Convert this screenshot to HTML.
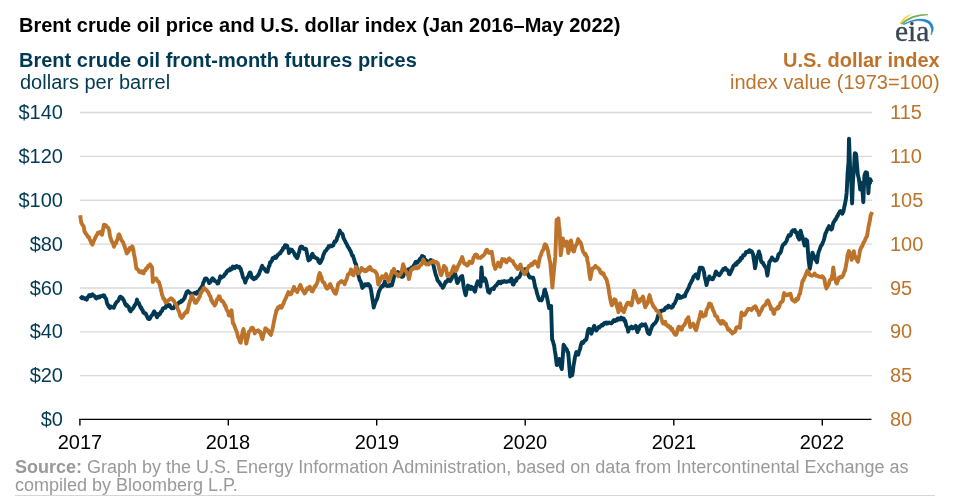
<!DOCTYPE html>
<html><head><meta charset="utf-8">
<style>
html,body{margin:0;padding:0;background:#fff;}
.t,.yl,.yr,.xl{will-change:transform;}
body{width:956px;height:498px;position:relative;overflow:hidden;font-family:"Liberation Sans",sans-serif;}
.t{position:absolute;white-space:nowrap;line-height:1;}
.b{font-weight:bold;}
.teal{color:#003953;}
.org{color:#bd732a;}
.yl{position:absolute;font-size:20px;line-height:1;color:#003953;text-align:right;width:60px;left:3.2px;}
.yr{position:absolute;font-size:20px;line-height:1;color:#bd732a;left:889.5px;}
.xl{position:absolute;font-size:20px;line-height:1;color:#000;width:60px;text-align:center;}
</style></head><body>
<div class="t b" style="left:19px;top:15px;font-size:20px;color:#000;">Brent crude oil price and U.S. dollar index (Jan 2016–May 2022)</div>
<div class="t b teal" style="left:19px;top:49.5px;font-size:20px;">Brent crude oil front-month futures prices</div>
<div class="t teal" style="left:19.5px;top:72.3px;font-size:20px;">dollars per barrel</div>
<div class="t b org" style="right:16.5px;top:49.5px;font-size:20px;">U.S. dollar index</div>
<div class="t org" style="right:16px;top:72.3px;font-size:20px;">index value (1973=100)</div>

<svg width="50" height="40" viewBox="890 6 50 40" style="position:absolute;left:890px;top:6px">
 <path d="M899.4,23.6 Q903.5,15.8 912,13.4 Q905.5,18.2 901,23.8Z" fill="#f3d250"/>
 <path d="M901.2,23.8 Q911,14 928,14.6 Q912,15.6 902.4,24Z" fill="#6aa84f" stroke="#6aa84f" stroke-width="0.8"/>
 <path d="M903.2,24.2 Q920,15.5 930,21.5 Q936,27 931,35 Q933,27 928,23 Q918,17.5 904.2,24.4Z" fill="#1f86c6" stroke="#1f86c6" stroke-width="0.6"/>
</svg>
<div class="t" style="left:894.5px;top:16.5px;font-family:'Liberation Serif',serif;font-size:29.5px;color:#3a4550;-webkit-text-stroke:0.35px #3a4550;">eia</div>
<svg width="956" height="498" style="position:absolute;left:0;top:0">
 <g stroke="#d9d9d9" stroke-width="1.3">
  <line x1="80" x2="872" y1="112.50" y2="112.50"/>
  <line x1="80" x2="872" y1="156.37" y2="156.37"/>
  <line x1="80" x2="872" y1="200.24" y2="200.24"/>
  <line x1="80" x2="872" y1="244.11" y2="244.11"/>
  <line x1="80" x2="872" y1="287.98" y2="287.98"/>
  <line x1="80" x2="872" y1="331.85" y2="331.85"/>
  <line x1="80" x2="872" y1="375.72" y2="375.72"/>
 </g>
 <g stroke="#000" stroke-width="1.4">
  <line x1="79.3" x2="871.5" y1="419.4" y2="419.4"/>
  <line x1="79.9" x2="79.9" y1="419" y2="425.5"/>
  <line x1="228.3" x2="228.3" y1="419" y2="425.5"/>
  <line x1="376.7" x2="376.7" y1="419" y2="425.5"/>
  <line x1="525.2" x2="525.2" y1="419" y2="425.5"/>
  <line x1="673.8" x2="673.8" y1="419" y2="425.5"/>
  <line x1="822.3" x2="822.3" y1="419" y2="425.5"/>
 </g>
 <line x1="15" x2="935" y1="495.5" y2="495.5" stroke="#d6d6d6" stroke-width="1"/>
 <g id="data" fill="none" stroke-width="3.9" stroke-linejoin="round" stroke-linecap="butt">
  <path stroke="#003953" d="M80.2,296.2L80.9,296.9L81.6,298.0L82.3,298.3L83.0,297.3L83.6,298.2L84.2,298.0L84.9,298.9L85.5,298.4L86.1,298.5L86.8,299.6L87.4,297.8L88.0,296.8L88.6,296.2L89.2,295.2L89.9,295.0L90.5,296.3L91.2,295.9L91.8,294.8L92.4,294.4L93.1,295.5L93.7,295.4L94.3,295.8L95.0,296.6L95.6,297.8L96.2,298.4L96.8,297.9L97.5,297.1L98.1,296.7L98.7,297.5L99.3,297.5L100.0,296.2L100.6,296.2L101.2,296.2L101.8,296.2L102.5,295.9L103.1,295.3L103.7,295.9L104.3,295.6L105.0,297.6L105.6,298.1L106.2,299.0L106.8,302.3L107.5,304.5L108.1,304.8L108.7,306.8L109.4,307.0L110.0,308.1L110.6,306.4L111.3,307.1L111.9,307.4L112.5,307.3L113.2,307.2L113.8,307.8L114.4,306.3L115.0,304.8L115.7,303.4L116.3,302.8L116.9,301.8L117.5,301.5L118.2,300.7L118.8,299.5L119.4,298.0L120.1,296.9L120.7,296.7L121.3,297.6L122.0,297.9L122.6,298.1L123.2,299.8L123.8,300.2L124.5,302.1L125.1,304.0L125.7,304.7L126.3,305.6L126.9,304.9L127.6,306.3L128.2,306.6L128.8,307.1L129.5,309.8L130.1,310.8L130.7,311.4L131.3,309.9L132.0,309.3L132.6,309.0L133.2,308.0L133.8,307.2L134.5,305.6L135.1,305.1L135.7,303.7L136.4,302.6L137.0,299.6L137.6,302.3L138.2,303.2L138.8,303.0L139.5,304.7L140.1,306.2L140.7,307.8L141.3,307.5L142.0,309.7L142.6,310.0L143.2,312.4L143.9,312.2L144.5,313.3L145.1,313.4L145.7,313.4L146.4,315.3L147.0,316.4L147.6,317.7L148.2,318.8L148.9,319.0L149.5,319.1L150.0,318.2L150.7,317.0L151.4,315.6L152.1,315.2L152.8,314.1L153.5,312.5L154.2,311.4L154.9,312.5L155.6,313.9L156.3,315.6L157.0,317.2L157.6,315.6L158.2,314.0L158.8,315.0L159.5,314.1L160.1,314.1L160.7,311.9L161.3,311.5L162.0,310.8L162.7,308.9L163.4,308.1L164.1,308.0L164.8,307.9L165.5,307.8L166.2,305.7L166.9,304.1L167.6,305.1L168.3,306.0L169.0,305.9L169.7,305.0L170.4,306.6L171.1,307.7L171.8,308.4L172.5,308.4L173.1,308.1L173.7,308.0L174.4,306.7L175.0,305.1L175.6,305.5L176.2,305.4L176.9,304.8L177.5,304.8L178.1,303.5L178.7,302.9L179.4,302.1L180.0,302.0L180.6,302.3L181.3,300.8L181.9,301.3L182.5,300.8L183.2,299.8L183.8,298.9L184.5,298.2L185.2,295.9L185.9,294.2L186.6,292.1L187.3,291.6L188.0,291.1L188.7,291.8L189.4,292.5L190.1,292.9L190.8,293.8L191.5,293.6L192.2,294.7L192.9,294.1L193.6,293.3L194.3,293.1L195.0,292.9L195.7,293.6L196.4,293.7L197.1,291.9L197.8,292.4L198.5,292.3L199.2,290.8L199.9,289.2L200.6,288.6L201.3,287.3L202.0,286.6L202.7,285.0L203.4,282.1L204.1,281.4L204.9,278.9L205.6,278.4L206.3,278.4L207.0,279.2L207.7,280.0L208.4,281.0L209.1,283.1L209.8,282.6L210.5,281.8L211.2,280.9L211.9,278.9L212.6,278.3L213.2,279.0L213.8,279.3L214.4,280.8L215.1,281.0L215.7,281.4L216.3,281.7L216.9,281.5L217.5,283.6L218.2,283.3L218.9,281.5L219.6,279.2L220.3,276.3L220.9,277.0L221.5,277.6L222.2,276.8L222.8,276.6L223.4,276.5L224.0,275.8L224.7,274.2L225.3,274.1L225.9,273.5L226.6,271.5L227.3,271.2L227.9,270.1L228.6,270.2L229.3,270.5L230.0,269.2L230.2,268.6L230.9,269.6L231.5,269.0L232.2,269.0L232.8,266.6L233.5,266.8L234.2,267.8L234.8,268.1L235.4,266.6L236.1,266.3L236.8,265.9L237.4,266.4L238.1,267.3L238.7,267.4L239.4,266.9L240.0,268.5L240.7,268.7L241.3,271.2L242.0,273.2L242.7,276.0L243.3,278.0L244.0,278.5L244.6,280.1L245.3,282.6L246.0,280.0L246.6,278.8L247.2,277.9L247.9,276.7L248.6,275.7L249.2,273.7L249.8,272.5L250.5,272.6L251.1,274.6L251.8,277.6L252.4,277.5L253.1,278.7L253.8,279.2L254.4,278.1L255.1,278.6L255.8,278.3L256.4,277.2L257.1,276.5L257.7,276.1L258.4,274.6L259.0,274.3L259.6,272.1L260.3,270.3L260.9,269.3L261.6,267.1L262.2,265.8L262.9,267.7L263.5,268.0L264.2,268.5L264.8,269.8L265.5,270.2L266.2,271.4L266.8,270.6L267.5,271.8L268.1,269.0L268.8,266.4L269.5,265.6L270.1,262.2L270.7,262.4L271.4,261.2L272.0,260.6L272.7,258.1L273.3,257.9L273.9,258.2L274.6,257.2L275.2,256.6L275.9,258.0L276.6,256.9L277.2,255.9L277.9,254.7L278.5,254.5L279.2,253.8L279.8,253.0L280.5,253.2L281.2,251.3L281.8,250.5L282.5,250.3L283.1,248.0L283.8,247.9L284.4,247.8L285.1,245.1L285.8,245.2L286.4,245.7L287.1,245.8L287.7,247.7L288.4,249.3L289.0,253.1L290.0,250.6L290.6,249.5L291.3,250.2L291.9,249.7L292.6,251.5L293.2,251.6L293.9,252.8L294.5,254.1L295.2,255.7L295.9,256.3L296.5,257.5L297.2,258.2L297.9,256.4L298.5,253.5L299.2,251.9L299.9,248.6L300.5,247.0L301.2,246.6L301.9,247.1L302.5,247.0L303.2,248.5L303.8,248.9L304.5,249.1L305.3,248.7L306.1,249.0L306.9,253.2L307.7,257.0L308.5,260.4L309.2,259.1L309.8,259.6L310.5,258.5L311.2,256.7L311.8,254.7L312.5,253.8L313.2,256.9L313.8,256.0L314.5,256.8L315.2,257.6L315.8,258.0L316.5,258.4L317.2,258.4L317.8,259.1L318.5,261.7L319.2,261.6L319.8,263.1L320.5,262.5L321.2,261.0L321.8,259.6L322.5,258.4L323.2,255.4L323.8,254.2L324.5,252.4L325.2,251.1L325.9,250.9L326.6,249.6L327.2,248.7L327.9,248.5L328.6,246.2L329.3,246.9L329.9,246.3L330.6,245.5L331.3,245.7L331.9,246.3L332.6,245.5L333.3,245.4L333.9,243.1L334.6,241.4L335.3,242.0L335.9,240.9L336.6,240.1L337.2,237.3L337.9,236.2L338.5,234.3L339.2,232.7L339.8,230.6L340.6,232.7L341.4,233.1L342.2,233.8L342.8,234.9L343.4,238.0L344.0,238.9L344.6,240.1L345.2,241.2L345.9,242.8L346.5,243.6L347.2,245.4L347.8,246.6L348.4,247.6L349.1,248.3L349.7,249.8L350.4,250.7L351.0,252.0L351.6,253.9L352.2,255.6L352.9,255.6L353.5,257.7L354.3,259.9L355.1,263.0L355.9,264.0L356.5,266.7L357.2,269.6L357.8,272.2L358.5,275.7L359.1,277.7L359.7,280.3L360.4,281.0L361.0,282.1L361.7,285.8L362.3,287.9L362.9,287.3L363.6,286.5L364.2,286.0L364.9,284.3L365.5,284.7L366.1,284.3L366.8,285.3L367.4,285.3L368.1,284.0L368.7,284.1L369.4,285.9L370.0,285.9L371.1,290.3L371.8,294.9L372.4,298.8L373.1,302.9L373.7,307.5L374.4,305.0L375.0,303.4L375.7,301.1L376.3,300.3L377.0,299.0L377.6,296.9L378.3,294.3L378.9,291.4L379.6,290.2L380.2,289.0L380.9,287.6L381.5,287.0L382.2,285.9L382.8,286.4L383.5,285.3L384.1,283.8L384.8,281.6L385.4,283.7L386.1,285.0L386.7,285.9L387.4,286.0L388.1,285.5L388.7,285.9L389.4,285.1L390.0,285.8L390.7,284.8L391.3,284.4L392.0,285.2L392.6,282.5L393.3,280.1L393.9,277.5L394.6,275.4L395.2,274.9L395.9,273.4L396.5,273.7L397.2,272.4L397.8,272.0L398.5,272.3L399.1,274.2L399.8,274.0L400.5,275.8L401.1,276.5L401.8,276.9L402.5,275.6L403.1,276.4L403.8,274.5L404.4,273.2L405.1,271.7L405.7,272.1L406.4,272.5L407.0,270.9L407.6,269.8L408.3,269.4L408.9,271.1L409.6,270.8L410.2,269.5L410.9,268.1L411.5,267.5L412.2,268.0L412.9,268.1L413.5,266.3L414.1,264.8L414.8,263.8L415.5,262.0L416.1,262.6L416.8,261.7L417.4,262.7L418.1,261.2L418.7,260.8L419.4,260.4L420.0,258.8L420.7,258.4L421.3,257.5L422.0,256.0L422.6,256.2L423.3,257.6L423.9,256.8L424.6,259.5L425.0,260.2L425.7,261.2L426.4,260.4L427.1,261.3L427.8,262.4L428.5,264.3L429.2,262.3L429.9,261.5L430.6,260.0L431.3,260.2L432.0,262.5L432.7,263.1L433.4,265.0L434.1,268.0L434.8,271.1L435.5,273.8L436.2,275.9L436.9,277.9L437.6,280.5L438.3,281.1L439.1,282.2L439.8,282.9L440.5,284.6L441.2,285.3L441.9,285.4L442.6,287.8L443.3,287.1L444.0,285.7L444.7,284.1L445.4,282.1L446.1,281.4L446.8,281.7L447.5,280.2L448.2,279.6L448.9,280.4L449.6,280.7L450.3,281.1L451.0,279.7L451.7,278.7L452.4,275.8L453.1,274.9L453.8,273.7L454.5,274.1L455.2,273.8L455.9,276.9L456.6,280.5L457.3,283.1L458.0,282.2L458.7,280.9L459.4,279.1L460.1,277.9L460.8,277.0L461.5,276.4L462.2,276.1L462.9,280.3L463.6,286.3L464.3,289.6L465.0,292.9L465.7,295.2L466.4,291.6L467.2,288.4L467.9,285.6L468.6,285.8L469.3,288.3L470.0,288.3L470.7,288.9L471.4,286.8L472.1,287.4L472.8,287.7L473.5,289.0L474.2,290.5L474.9,291.6L475.6,289.1L476.3,285.4L477.0,283.3L477.7,281.3L478.4,282.0L479.1,281.5L479.8,284.1L480.5,286.4L481.5,267.4L482.6,281.0L483.3,280.6L484.0,278.7L484.7,278.3L485.4,279.4L486.1,281.3L486.8,284.7L487.5,288.2L488.2,291.9L488.9,291.5L489.6,292.8L490.3,290.3L491.0,289.3L491.7,289.0L492.4,288.5L493.1,288.7L493.8,289.1L494.5,286.8L495.2,286.3L496.0,285.4L496.7,285.1L497.4,283.6L498.1,282.7L498.8,281.7L499.5,283.0L500.2,283.3L500.9,283.2L501.6,281.5L502.3,282.1L503.0,282.0L503.7,281.2L504.4,281.0L505.1,281.8L505.8,281.8L506.5,281.5L507.2,281.8L507.9,281.2L508.6,281.4L509.3,281.4L510.0,280.8L510.7,279.6L511.4,278.5L512.1,281.6L512.8,284.4L513.5,284.6L514.2,282.5L514.9,280.6L515.6,281.2L516.3,280.6L517.0,278.1L517.7,278.2L518.4,277.5L519.1,277.3L519.8,276.1L520.5,274.7L521.2,272.4L522.0,271.1L522.7,270.9L523.4,270.4L524.1,269.4L524.8,269.3L525.5,269.1L526.2,269.3L526.9,271.7L527.6,273.5L528.3,274.8L529.0,276.5L529.7,277.5L530.4,277.0L531.1,277.7L531.8,277.8L532.5,277.9L533.2,277.8L533.9,280.2L534.6,284.0L535.3,287.8L536.0,288.6L536.7,291.9L537.4,294.5L538.1,296.6L538.8,298.9L539.5,300.2L540.2,299.9L540.9,300.0L541.6,300.4L542.3,298.5L543.0,296.2L543.7,294.4L544.4,290.0L545.0,289.5L545.1,290.9L545.8,292.5L546.4,295.1L547.1,297.7L547.8,301.2L548.4,304.5L549.1,308.0L549.8,306.9L550.4,306.7L551.1,306.0L552.1,339.5L552.8,340.8L553.4,343.1L554.1,345.3L554.8,350.5L555.5,354.3L556.1,359.7L556.8,365.1L557.4,363.8L558.0,361.9L558.6,360.3L559.2,359.1L559.9,362.3L560.5,365.6L561.1,367.3L561.8,369.1L562.4,361.5L563.0,353.5L563.6,344.8L564.2,345.6L564.9,347.0L565.6,348.6L566.2,348.6L566.9,349.7L567.5,351.9L568.2,352.5L568.9,360.8L569.5,368.9L570.2,376.5L570.9,375.5L571.5,375.5L572.2,375.2L572.9,370.9L573.5,365.6L574.2,361.9L574.9,357.5L575.6,354.9L576.3,352.1L577.0,353.5L577.6,353.5L578.3,354.6L578.9,351.8L579.5,350.3L580.1,349.0L580.7,345.8L581.3,343.7L581.9,342.4L582.5,343.0L583.1,343.1L583.7,342.1L584.3,340.7L585.0,340.3L585.6,340.1L586.3,339.3L586.9,336.7L587.6,332.4L588.2,329.9L588.9,328.8L589.7,329.0L590.5,331.4L591.3,333.7L591.9,332.1L592.5,331.0L593.1,328.8L593.7,326.7L594.3,325.8L595.0,327.3L595.7,328.7L596.4,330.6L597.0,329.5L597.6,328.8L598.2,328.1L598.8,327.1L599.4,327.5L600.0,326.7L600.7,326.0L601.3,325.4L602.0,324.7L602.6,325.5L603.2,324.8L603.9,323.4L604.5,322.9L605.1,322.8L605.8,322.7L606.5,323.6L607.1,322.6L607.8,323.2L608.5,323.2L609.2,322.4L609.9,322.8L610.5,322.9L611.2,323.4L611.9,322.9L612.5,322.6L613.2,320.8L613.9,320.1L614.5,320.7L615.1,321.1L615.8,320.4L616.5,319.6L617.1,320.3L617.8,318.4L618.5,318.4L619.1,319.3L619.8,319.5L620.5,318.4L621.2,317.5L621.9,319.3L622.5,319.2L623.2,318.4L623.9,318.7L624.5,321.1L625.2,320.8L625.9,324.1L626.5,326.2L627.4,327.5L628.2,331.7L628.8,329.0L629.5,329.0L630.1,327.6L630.7,327.3L631.4,326.6L632.0,327.1L632.6,328.4L633.3,328.2L633.9,327.4L634.5,327.0L635.2,326.8L635.8,325.8L636.6,329.1L637.5,332.1L638.1,330.2L638.8,329.4L639.5,326.8L640.1,325.8L640.8,325.1L641.4,325.8L642.1,324.4L642.7,325.4L643.3,325.2L644.0,324.8L644.6,324.5L645.2,324.3L645.9,326.3L646.5,327.4L647.1,330.2L647.8,332.6L648.6,333.6L649.5,334.1L650.4,331.2L651.2,328.6L651.9,327.0L652.5,325.4L653.1,325.2L653.8,324.0L654.4,323.7L655.0,323.4L655.7,322.1L656.3,321.4L657.0,319.9L657.7,316.8L658.4,314.5L659.1,313.7L659.9,312.7L660.6,311.1L661.2,311.4L661.9,310.5L662.5,310.5L663.1,310.4L663.8,310.1L664.4,309.9L665.1,308.4L665.7,307.6L666.4,307.1L667.0,307.3L667.6,307.7L668.3,305.7L668.9,306.6L669.5,306.4L670.2,306.7L670.8,307.3L671.5,307.7L672.1,307.2L672.8,306.8L673.4,304.5L674.1,304.1L674.7,303.3L675.4,301.8L676.2,300.0L677.0,297.5L677.8,295.0L678.4,295.4L679.1,295.5L679.7,297.9L680.4,296.8L681.0,297.8L681.7,297.1L682.3,296.8L683.0,296.9L683.7,295.8L684.3,296.4L685.0,296.3L685.8,293.0L686.6,291.9L687.4,290.2L688.1,288.6L688.8,287.7L689.6,285.1L690.3,283.6L691.0,282.7L691.7,280.5L692.4,280.3L693.1,277.7L693.8,276.3L694.5,276.4L695.3,274.8L696.0,274.2L696.6,275.0L697.3,277.4L697.9,278.5L698.5,275.4L699.2,270.7L699.8,267.8L700.5,267.7L701.2,267.9L702.0,267.8L702.7,268.0L703.3,270.2L704.0,272.2L704.6,276.6L705.2,279.0L705.9,281.9L706.5,285.1L707.2,281.9L708.0,280.2L708.7,278.5L709.4,276.4L710.1,277.9L710.8,278.7L711.5,279.0L712.2,279.4L712.8,279.2L713.5,277.4L714.1,276.7L714.7,275.6L715.4,272.9L716.0,271.5L716.6,272.6L717.3,273.4L717.9,274.2L718.5,274.7L719.2,275.3L719.8,274.7L720.5,273.3L721.2,272.7L722.0,270.9L722.7,270.5L723.3,268.9L724.0,269.6L724.6,269.3L725.2,267.9L725.9,269.2L726.5,269.2L727.1,270.1L727.8,270.4L728.4,271.6L729.0,274.1L729.7,274.2L730.3,273.1L731.0,271.8L731.8,269.8L732.5,268.4L733.2,266.4L733.8,265.5L734.5,264.8L735.1,265.3L735.7,263.6L736.4,264.7L737.0,263.1L737.6,261.8L738.2,262.3L738.8,261.9L739.4,260.4L740.0,260.7L740.6,258.4L741.3,257.6L742.0,258.1L742.6,256.9L743.2,255.2L743.9,255.2L744.5,255.2L745.2,254.1L745.9,252.1L746.5,251.9L747.1,252.0L747.8,251.8L748.5,252.1L749.1,250.4L749.8,250.2L750.4,250.7L751.1,252.0L751.7,251.3L752.4,252.7L753.0,254.0L753.7,259.0L754.4,263.2L755.0,268.4L755.7,265.1L756.3,260.3L757.0,256.9L757.6,255.5L758.3,254.1L758.9,251.5L759.5,253.6L760.2,255.2L760.9,260.3L761.5,262.0L762.1,262.5L762.8,262.4L763.5,264.4L764.1,264.7L764.8,266.5L765.4,267.2L766.1,267.4L766.8,272.2L767.4,275.6L768.0,271.3L768.7,266.8L769.3,261.9L770.0,261.3L770.6,260.1L771.3,259.9L771.9,257.5L772.6,258.6L773.2,259.0L773.9,259.7L774.5,260.4L775.2,260.7L775.9,260.5L776.5,260.1L777.2,258.9L777.8,257.3L778.5,254.1L779.1,254.2L779.8,253.2L780.4,252.7L781.1,250.9L781.7,248.6L782.4,246.1L783.0,244.9L783.7,244.4L784.4,243.4L785.0,243.5L785.7,242.2L786.3,241.4L787.0,239.7L787.6,237.5L788.3,236.4L788.9,235.2L789.6,235.0L790.2,235.6L790.9,234.6L791.5,232.0L792.2,231.1L792.8,230.4L793.5,230.9L794.1,230.4L794.8,230.0L795.4,232.2L796.1,232.0L796.8,232.6L797.4,235.4L798.0,237.2L798.7,238.4L799.3,239.5L800.0,235.4L800.6,230.8L801.3,233.5L801.9,235.4L802.6,237.5L803.3,240.2L803.9,242.7L804.6,245.4L805.2,244.1L805.9,239.4L806.5,240.4L807.2,240.8L807.9,250.4L808.5,259.0L809.1,264.0L809.8,269.0L810.5,265.2L811.1,261.5L811.8,257.3L812.4,252.6L813.0,254.0L813.7,255.2L814.4,256.7L815.0,258.7L815.7,260.3L816.3,260.6L817.0,262.2L817.6,257.5L818.3,253.3L818.9,251.3L819.6,249.8L820.2,247.8L820.9,245.8L821.6,245.1L822.2,244.2L822.9,242.4L823.6,240.6L824.2,238.6L824.8,236.3L825.4,233.4L826.0,232.7L826.6,231.1L827.2,229.7L827.8,228.3L828.4,228.6L829.0,226.1L829.6,226.9L830.4,227.7L831.2,229.6L832.0,228.9L832.6,225.9L833.3,222.8L833.9,222.1L834.5,221.0L835.1,219.7L835.7,219.7L836.3,218.0L836.9,216.7L837.5,216.3L838.1,214.7L838.7,213.5L839.3,212.9L839.9,211.5L840.5,211.0L841.1,211.7L841.7,212.1L842.3,213.7L842.9,212.6L843.5,211.0L844.1,207.8L844.7,205.3L845.9,199.2L846.7,192.4L847.6,173.0L848.5,162.5L849.0,138.7L849.9,162.0L850.3,176.6L851.2,180.1L852.1,203.5L853.0,179.7L853.9,170.3L854.8,153.3L855.5,153.4L856.1,154.3L857.2,167.5L857.9,174.9L858.6,177.7L859.3,181.8L860.2,189.6L861.1,182.7L862.1,185.5L863.3,202.2L864.4,175.8L865.0,173.8L865.7,172.3L866.9,172.6L867.7,179.1L868.4,193.2L869.3,180.0L870.2,179.3L870.9,180.9L871.6,182.3L871.9,182.3"/>
  <path stroke="#bd732a" d="M80.2,215.2L80.8,219.5L81.4,223.1L82.6,225.1L83.2,225.7L83.9,227.2L84.4,231.3L85.1,232.3L85.9,233.7L86.6,234.4L87.3,235.7L88.0,236.9L88.9,237.0L89.8,239.5L90.7,241.5L91.6,243.4L92.5,244.7L93.4,241.8L94.3,239.9L95.2,237.9L96.1,236.1L96.7,235.1L97.3,234.4L97.9,232.7L98.7,232.8L99.4,232.7L100.2,231.8L101.1,234.0L102.0,234.7L102.9,230.5L103.8,224.9L104.6,224.7L105.3,225.1L106.1,225.6L106.7,226.7L107.3,227.3L107.9,227.4L108.6,228.7L109.2,230.6L109.9,235.4L110.6,238.1L111.2,239.9L111.8,241.7L112.4,242.0L113.2,244.2L114.0,246.8L114.7,244.3L115.3,243.9L116.0,243.4L116.6,241.1L117.2,239.9L117.9,237.9L118.5,235.0L119.1,234.2L119.8,236.0L120.5,237.8L121.3,239.8L122.0,240.8L122.6,241.9L123.2,242.3L123.8,244.6L124.4,245.6L125.2,248.4L126.0,250.7L126.8,253.6L127.6,252.2L128.4,251.9L129.2,248.7L129.8,247.9L130.4,248.4L131.1,249.1L131.7,248.5L132.3,246.3L133.2,248.9L134.0,254.0L134.6,257.2L135.2,260.2L135.8,264.7L136.4,268.6L137.1,269.0L137.8,269.6L138.6,270.4L139.3,271.9L140.0,272.3L140.6,272.3L141.2,272.5L141.8,271.3L142.5,272.8L143.1,273.3L143.7,273.4L144.3,270.9L144.9,270.2L145.5,270.5L146.1,268.3L146.7,268.1L147.3,268.2L148.1,265.9L148.9,266.2L149.7,264.9L150.0,264.4L150.7,265.4L151.4,266.6L152.1,267.3L152.8,282.0L153.5,280.3L154.2,279.4L154.9,279.6L155.6,278.5L156.3,278.5L157.0,280.1L157.7,281.5L158.4,281.3L159.1,282.6L159.8,285.3L160.5,287.8L161.2,290.6L162.0,294.6L162.7,296.2L163.4,298.7L164.1,298.8L164.8,300.1L165.5,302.3L166.2,302.5L166.9,302.0L167.6,301.2L168.3,300.4L169.0,299.8L169.7,299.5L170.4,298.6L171.1,298.2L171.8,299.0L172.5,299.3L173.2,300.3L173.9,300.8L174.6,302.4L175.3,303.4L176.0,304.4L176.7,305.8L177.4,307.7L178.1,310.0L178.8,311.1L179.5,313.0L180.2,316.1L180.9,315.8L181.6,317.9L182.3,317.4L183.1,316.4L183.8,315.0L184.5,313.2L185.2,313.1L185.9,312.3L186.6,311.1L187.3,312.1L188.0,309.0L188.7,305.7L189.4,303.2L190.1,300.6L190.8,299.3L191.5,296.2L192.2,295.5L192.9,298.2L193.6,298.7L194.3,300.5L195.0,302.7L195.7,302.6L196.4,302.8L197.1,300.5L197.8,300.3L198.5,298.6L199.2,297.5L199.9,296.4L200.6,292.4L201.3,292.8L202.0,290.6L202.7,290.5L203.4,288.3L204.1,287.8L204.8,289.3L205.6,289.3L206.3,289.9L207.0,290.8L207.7,291.6L208.4,292.4L209.1,294.5L209.8,295.6L210.5,296.7L211.2,300.3L211.9,300.3L212.6,302.8L213.3,303.2L214.0,304.2L214.7,305.5L215.3,304.3L215.9,303.4L216.5,300.9L217.1,299.3L217.7,299.4L218.3,297.7L218.9,296.3L219.6,296.6L220.3,299.0L221.0,300.0L221.7,301.3L222.3,300.9L222.9,301.8L223.5,302.0L224.1,303.9L224.7,305.7L225.3,305.4L225.9,307.4L226.6,309.6L227.4,310.9L228.1,311.6L228.8,315.4L230.0,315.7L230.8,313.3L231.5,310.3L232.2,316.5L232.9,323.3L233.6,323.4L234.3,325.7L235.0,327.6L235.7,329.3L236.4,331.1L237.2,333.1L237.9,336.7L238.6,338.1L239.3,339.6L240.0,341.9L240.7,342.7L241.4,337.8L242.1,335.0L242.8,331.0L243.5,329.1L244.2,332.9L244.9,335.9L245.6,339.6L246.3,343.7L247.0,340.3L247.7,337.9L248.4,334.1L249.1,331.4L249.8,331.0L250.5,330.4L251.2,328.2L251.9,327.8L252.6,327.7L253.3,329.1L254.0,330.1L254.7,333.4L255.4,331.9L256.1,331.7L256.8,331.0L257.5,330.5L258.2,330.3L258.9,330.9L259.6,332.3L260.3,331.8L261.0,334.4L261.7,337.3L262.4,339.2L263.1,335.8L263.9,333.4L264.6,332.1L265.3,328.3L266.0,328.6L266.7,329.9L267.4,330.4L268.1,330.2L268.8,332.1L269.5,333.4L270.2,334.0L270.9,334.9L271.6,332.1L272.3,330.1L273.0,326.5L273.7,322.9L274.4,319.6L275.1,315.9L275.8,313.5L276.5,309.9L277.2,309.9L277.9,307.5L278.6,307.8L279.3,306.8L280.0,306.1L280.7,307.6L281.4,307.7L282.1,306.5L282.8,304.8L283.5,303.6L284.2,301.4L284.9,300.0L285.6,298.6L286.3,297.0L287.0,295.1L287.7,294.0L288.4,292.1L289.2,294.0L290.0,294.4L290.7,294.3L291.3,293.8L292.0,291.7L292.7,289.9L293.3,290.0L294.0,286.8L294.6,288.2L295.3,290.4L295.9,289.5L296.6,290.5L297.2,292.1L297.8,290.1L298.5,289.0L299.1,288.2L299.8,286.0L300.4,284.9L301.1,286.7L301.8,288.6L302.4,289.7L303.1,290.9L303.8,291.7L304.5,293.4L305.2,293.1L305.8,291.7L306.5,289.8L307.2,288.4L307.8,289.4L308.5,288.0L309.2,288.3L309.8,286.7L310.5,288.6L311.2,289.6L311.8,291.3L312.5,291.5L313.2,289.9L313.8,289.0L314.5,286.4L315.2,286.7L315.8,285.7L316.5,284.0L317.1,282.8L317.8,281.3L318.4,277.2L319.1,274.7L319.7,273.0L320.3,274.7L320.9,276.0L321.5,277.1L322.1,280.5L322.9,282.2L323.7,282.3L324.5,283.3L325.2,285.8L325.8,286.8L326.5,288.3L327.1,288.7L327.8,288.2L328.6,287.4L329.4,284.8L330.2,284.1L330.8,285.8L331.5,287.5L332.1,288.0L332.8,289.3L333.4,290.9L334.0,291.8L334.6,292.9L335.2,293.5L335.8,293.8L336.6,291.2L337.4,287.7L338.2,283.8L338.8,283.0L339.5,282.7L340.1,282.2L340.8,281.7L341.4,281.0L342.0,281.6L342.7,282.0L343.3,281.7L344.0,282.9L344.6,284.2L345.2,282.6L345.9,280.7L346.5,279.5L347.2,277.2L347.8,274.7L348.4,274.7L349.1,273.4L349.7,273.5L350.4,271.7L351.0,269.4L351.6,271.1L352.2,274.2L352.9,274.9L353.5,275.3L354.3,272.1L355.1,269.8L355.9,266.9L356.5,268.4L357.1,270.9L357.7,272.3L358.3,273.3L358.9,272.6L359.6,272.4L360.2,271.3L360.9,270.3L361.5,267.9L362.1,268.5L362.8,269.6L363.4,269.6L364.1,270.8L364.7,271.3L365.3,271.0L366.0,269.8L366.6,270.9L367.3,270.2L367.9,268.7L368.6,267.9L369.3,268.9L370.0,267.1L370.7,268.5L371.4,269.8L372.0,270.3L372.7,270.4L373.5,270.7L374.2,270.9L375.0,271.3L375.7,272.4L376.3,273.0L377.0,274.4L377.6,279.6L378.3,284.6L378.9,283.1L379.6,281.4L380.2,280.6L380.9,278.4L381.5,277.0L382.2,276.1L382.8,276.3L383.5,277.8L384.1,278.0L384.8,276.5L385.4,275.6L386.1,274.0L386.8,276.4L387.4,278.9L388.1,280.6L388.7,281.1L389.4,279.6L390.0,278.6L390.7,275.7L391.3,273.9L392.0,271.1L392.6,271.5L393.3,271.3L393.9,268.8L394.6,270.9L395.2,273.1L395.9,273.3L396.5,273.6L397.2,274.6L397.9,275.8L398.5,276.3L399.1,275.8L399.8,275.0L400.5,274.1L401.1,273.0L401.8,271.0L402.4,268.5L403.1,264.2L403.7,266.1L404.4,267.6L405.0,269.4L405.7,270.9L406.3,272.0L407.0,273.3L407.6,274.3L408.3,276.2L408.9,279.1L409.6,276.2L410.2,273.2L410.9,270.3L411.5,269.3L412.2,269.4L412.9,268.8L413.5,267.9L414.1,267.7L414.8,268.2L415.5,266.9L416.1,267.8L416.8,268.3L417.4,267.3L418.1,267.8L418.7,267.8L419.4,266.1L420.0,265.7L420.6,265.0L421.3,264.7L422.0,263.5L422.6,261.7L423.3,259.5L424.1,261.3L425.0,262.9L425.7,264.0L426.4,264.5L427.1,264.3L427.8,264.2L428.5,264.0L429.2,263.4L429.9,262.6L430.6,262.6L431.3,262.1L432.0,261.9L432.7,261.8L433.4,260.8L434.1,262.6L434.8,261.7L435.5,262.3L436.2,262.0L436.9,262.6L437.6,262.8L438.4,265.4L439.1,268.5L439.8,270.9L440.5,274.1L441.2,275.2L441.9,273.2L442.6,270.7L443.3,268.5L444.0,265.9L444.7,266.6L445.4,267.9L446.1,268.2L446.8,273.2L447.5,276.1L448.2,275.5L448.9,276.0L449.6,274.0L450.3,273.3L451.0,273.5L451.7,272.6L452.4,269.7L453.1,268.0L453.8,266.3L454.5,267.9L455.2,268.4L455.9,271.2L456.6,270.2L457.3,267.9L458.0,266.3L458.7,264.4L459.4,264.0L460.1,261.6L460.8,260.7L461.5,258.7L462.2,257.0L462.9,259.6L463.6,262.2L464.3,263.5L465.0,263.3L465.8,264.6L466.5,264.8L467.2,265.5L467.9,265.1L468.6,263.9L469.3,261.7L470.0,261.9L470.7,261.9L471.4,262.9L472.1,263.0L472.8,260.7L473.5,257.4L474.2,257.0L474.9,255.2L475.6,254.5L476.3,254.6L477.0,255.1L477.7,257.7L478.4,257.4L479.1,257.7L479.8,257.8L480.5,258.0L481.2,256.9L481.9,256.8L482.6,255.6L483.3,255.6L484.0,254.9L484.7,253.9L485.4,252.3L486.1,250.5L486.8,249.7L487.5,250.1L488.2,252.1L488.9,252.8L489.6,252.9L490.3,252.4L491.0,252.1L491.7,251.8L492.4,256.0L493.1,260.5L493.8,264.8L494.6,266.4L495.3,268.9L496.0,266.4L496.7,265.3L497.4,266.0L498.1,262.6L498.8,263.7L499.5,265.3L500.2,266.7L500.9,264.3L501.6,261.4L502.3,259.1L503.0,259.5L503.7,260.4L504.4,259.3L505.1,260.2L505.8,261.8L506.5,262.3L507.2,260.8L507.9,260.7L508.6,259.0L509.3,258.4L510.0,259.5L510.7,260.0L511.4,260.8L512.1,261.1L512.8,261.2L513.5,262.7L514.2,264.3L514.9,264.9L515.6,265.9L516.3,267.4L517.0,267.4L517.7,269.0L518.4,269.0L519.1,266.8L519.8,265.7L520.5,264.5L521.2,267.4L522.0,268.8L522.7,270.9L523.4,271.4L524.1,272.8L524.8,274.3L525.5,271.7L526.2,272.0L526.9,270.9L527.6,267.9L528.3,267.5L529.0,265.9L529.7,265.8L530.4,265.6L531.1,264.0L531.8,264.0L532.4,264.9L533.0,263.6L533.6,262.6L534.2,261.7L534.8,261.2L535.4,261.8L536.0,262.7L536.7,263.6L537.4,264.5L538.1,266.8L538.8,262.5L539.5,258.8L540.2,256.3L540.9,255.2L541.6,252.8L542.3,250.9L543.0,250.3L543.7,248.7L544.3,245.9L545.0,244.3L545.6,244.5L546.3,245.3L546.9,247.3L547.5,249.3L548.1,251.2L548.8,255.7L549.6,259.9L550.3,262.5L551.0,271.4L551.7,278.9L552.4,287.6L553.1,279.1L553.9,270.8L554.6,263.5L555.3,256.9L556.0,239.0L556.6,219.9L557.5,219.5L558.4,218.4L559.0,225.4L559.7,231.0L560.7,255.3L561.4,250.3L562.2,244.8L562.9,238.5L563.6,241.7L564.4,243.7L565.1,245.7L566.0,244.5L566.9,241.5L567.6,247.1L568.3,253.0L569.0,250.6L569.6,247.1L570.3,244.1L571.0,240.4L571.8,244.4L572.6,249.0L573.4,251.5L574.1,251.3L574.8,248.1L575.5,246.2L576.2,244.9L576.9,244.1L577.5,241.5L578.2,239.1L578.9,240.7L579.6,241.6L580.3,242.0L581.0,243.6L581.9,247.0L582.8,251.1L583.5,252.3L584.1,253.0L584.8,254.6L585.5,253.9L586.2,256.3L586.9,256.8L587.5,261.3L588.2,263.8L588.9,269.4L589.6,275.4L590.3,279.2L590.9,275.7L591.5,272.3L592.1,268.9L592.8,268.2L593.4,268.3L594.1,267.5L594.7,266.8L595.4,265.9L596.1,267.0L596.8,267.5L597.4,267.5L598.1,268.3L598.8,269.0L599.5,269.3L600.1,271.8L600.8,272.9L601.5,272.3L602.1,273.8L602.8,274.1L603.5,273.2L604.3,276.1L605.0,277.0L605.8,278.5L606.5,279.2L607.4,283.1L608.2,286.3L609.4,294.3L610.0,297.7L610.6,300.9L611.2,303.3L611.9,305.3L612.5,304.3L613.1,302.4L613.7,301.0L614.4,299.3L615.0,299.5L615.7,300.2L616.4,304.4L617.1,307.0L617.8,309.0L618.4,312.2L619.2,307.1L620.1,303.3L620.8,306.3L621.5,307.8L622.2,310.5L623.0,310.7L623.9,312.1L624.8,309.4L625.6,307.0L626.3,305.1L627.0,303.7L627.7,302.7L628.3,302.7L629.0,303.7L629.6,303.3L630.3,304.4L631.0,305.2L631.6,305.2L632.2,302.1L632.9,297.5L633.5,295.1L634.1,290.6L634.8,292.2L635.4,293.8L636.1,295.5L636.7,297.8L637.5,300.3L638.4,302.5L639.0,301.9L639.7,301.7L640.4,299.9L641.0,298.8L641.6,299.0L642.2,298.1L642.9,296.5L643.5,298.1L644.4,304.3L645.2,307.3L645.9,305.9L646.7,304.6L647.4,303.4L648.1,301.1L648.8,298.2L649.5,295.1L650.4,298.2L651.2,301.6L652.0,303.1L652.9,305.2L653.7,307.0L654.5,307.2L655.1,308.5L655.8,309.3L656.4,310.6L657.1,310.7L657.7,311.0L658.5,312.3L659.3,313.7L660.1,314.5L660.9,317.0L661.7,319.7L662.5,322.4L663.1,323.5L663.8,322.5L664.4,322.7L665.1,321.7L665.7,324.5L666.3,324.3L667.0,325.1L667.6,326.1L668.3,325.7L668.9,327.1L669.5,327.6L670.2,326.8L670.8,328.2L671.5,329.7L672.1,328.5L672.7,330.6L673.4,331.7L674.0,332.9L674.6,333.9L675.4,334.9L676.2,334.6L677.0,332.3L677.8,329.0L678.6,326.8L679.2,326.6L679.9,327.4L680.5,329.3L681.2,329.6L681.8,329.7L682.4,327.5L683.1,326.1L683.7,325.5L684.4,324.9L685.0,323.6L685.8,321.8L686.5,319.6L687.1,319.7L687.8,318.3L688.4,317.2L689.0,321.2L689.7,324.1L690.3,327.0L691.0,325.7L691.7,324.8L692.4,324.5L693.1,323.5L693.8,324.5L694.5,327.1L695.3,329.1L696.0,330.3L696.7,328.3L697.5,325.1L698.2,322.0L698.9,319.8L699.5,317.9L700.2,314.3L700.8,312.1L701.4,312.3L702.0,315.0L702.6,314.9L703.2,316.5L704.0,314.9L704.7,314.8L705.5,315.4L706.3,310.8L707.0,309.2L707.8,308.1L708.4,306.1L709.1,303.7L709.7,303.5L710.3,304.3L711.0,304.3L711.6,306.8L712.2,307.0L712.9,310.0L713.7,311.1L714.4,313.0L715.1,315.5L715.8,316.3L716.5,316.3L717.2,316.8L717.9,319.6L718.6,320.9L719.3,321.0L720.1,322.7L720.8,323.7L721.5,323.4L722.2,321.0L723.0,321.1L723.7,321.6L724.4,323.1L725.1,324.5L725.8,323.6L726.5,325.7L727.2,327.2L728.0,329.7L728.7,329.0L729.4,329.7L730.1,330.6L730.8,331.9L731.6,332.0L732.3,333.5L733.0,332.3L733.7,332.4L734.4,331.7L735.1,331.8L735.7,329.8L736.4,327.4L737.0,327.3L737.7,327.4L738.5,326.8L739.2,327.1L739.9,327.8L740.7,319.5L741.5,312.4L742.1,313.6L742.8,314.6L743.4,314.9L744.0,314.3L744.6,314.9L745.3,314.0L745.9,312.7L746.5,311.4L747.2,310.7L747.8,309.3L748.4,308.8L749.0,308.9L749.6,309.1L750.3,309.2L750.9,309.0L751.5,310.1L752.1,308.5L752.8,308.7L753.4,307.3L754.0,307.1L754.7,307.3L755.3,306.2L755.9,307.0L756.6,308.8L757.2,310.5L757.8,310.8L758.5,312.7L759.1,314.9L759.7,313.2L760.3,312.1L761.0,311.1L761.6,309.9L762.2,308.6L762.8,307.0L763.4,306.1L764.1,305.7L764.8,305.2L765.4,304.8L766.0,303.8L766.6,301.7L767.3,301.1L767.9,300.4L768.5,301.3L769.1,303.2L769.8,305.1L770.4,306.3L771.0,309.0L771.6,307.9L772.3,309.8L772.9,310.4L773.5,313.3L774.1,313.9L774.8,310.1L775.4,309.6L776.0,309.0L776.6,308.5L777.2,308.8L777.9,307.0L778.5,308.2L779.1,306.8L779.8,305.0L780.4,302.9L781.0,302.9L781.6,301.7L782.3,301.4L782.9,300.4L783.5,295.6L784.2,293.1L784.8,294.1L785.5,295.1L786.1,294.7L786.7,295.4L787.3,295.2L788.0,294.3L788.6,294.2L789.2,294.2L789.8,293.8L790.4,293.8L791.1,296.3L791.7,298.6L792.3,299.8L792.9,300.4L793.6,300.0L794.2,300.2L794.9,301.7L795.5,301.5L796.1,299.4L796.8,298.5L797.4,299.8L798.0,299.2L798.7,296.5L799.3,294.6L800.0,293.8L800.7,289.6L801.4,287.0L802.1,282.8L802.7,280.6L803.4,280.6L804.0,278.5L804.6,277.4L805.3,275.8L806.0,274.0L806.7,272.7L807.4,270.6L808.1,271.4L808.8,272.5L809.5,274.6L810.1,274.8L810.8,275.3L811.4,275.4L812.1,275.7L812.7,275.4L813.3,274.8L813.9,274.6L814.6,273.5L815.2,274.4L815.8,275.2L816.4,275.8L817.1,275.7L817.7,275.7L818.4,276.6L819.0,276.4L819.6,276.8L820.3,276.8L820.9,276.6L821.6,277.2L822.2,276.2L822.9,277.0L823.6,277.7L824.3,278.6L825.0,282.9L825.7,286.4L826.4,288.4L827.0,287.2L827.6,286.3L828.3,285.0L828.9,283.9L829.5,281.1L830.2,279.9L830.9,279.4L831.6,279.3L832.5,273.5L833.3,267.4L834.0,273.2L834.8,278.8L835.5,280.0L836.2,282.9L836.9,283.5L837.6,281.1L838.3,280.1L839.0,277.5L839.7,277.3L840.4,276.8L841.1,277.5L841.8,277.4L842.5,276.0L843.2,275.3L843.9,272.9L844.7,271.1L845.4,268.9L846.1,264.9L846.8,261.4L847.5,255.6L848.2,253.3L848.9,251.0L849.6,252.4L850.3,254.3L851.0,256.8L851.7,259.8L852.4,257.2L853.1,254.7L853.8,251.2L854.5,255.1L855.2,256.6L855.9,258.5L856.6,259.0L857.3,260.8L858.0,261.7L858.7,258.0L859.4,254.3L860.1,250.0L860.8,248.7L861.5,246.6L862.2,246.4L862.9,244.4L863.6,242.3L864.3,241.9L865.0,240.1L865.7,238.3L866.4,237.1L867.1,236.0L867.9,230.5L868.6,226.2L869.3,223.5L870.0,219.6L870.7,215.2L871.5,213.6L872.2,211.9"/>
 </g>
</svg>

<div class="yl" style="top:102.1px">$140</div>
<div class="yl" style="top:146.0px">$120</div>
<div class="yl" style="top:189.8px">$100</div>
<div class="yl" style="top:233.7px">$80</div>
<div class="yl" style="top:277.6px">$60</div>
<div class="yl" style="top:321.4px">$40</div>
<div class="yl" style="top:365.3px">$20</div>
<div class="yl" style="top:409.2px">$0</div>

<div class="yr" style="top:102.1px">115</div>
<div class="yr" style="top:146.0px">110</div>
<div class="yr" style="top:189.8px">105</div>
<div class="yr" style="top:233.7px">100</div>
<div class="yr" style="top:277.6px">95</div>
<div class="yr" style="top:321.4px">90</div>
<div class="yr" style="top:365.3px">85</div>
<div class="yr" style="top:409.2px">80</div>

<div class="xl" style="left:49.9px;top:432.1px">2017</div>
<div class="xl" style="left:198.3px;top:432.1px">2018</div>
<div class="xl" style="left:346.7px;top:432.1px">2019</div>
<div class="xl" style="left:495.2px;top:432.1px">2020</div>
<div class="xl" style="left:643.8px;top:432.1px">2021</div>
<div class="xl" style="left:792.3px;top:432.1px">2022</div>

<div class="t" style="left:14.8px;top:458px;font-size:18px;color:#999;"><b>Source:</b> Graph by the U.S. Energy Information Administration, based on data from Intercontinental Exchange as</div>
<div class="t" style="left:14.8px;top:475.5px;font-size:18px;color:#999;">compiled by Bloomberg L.P.</div>
</body></html>
